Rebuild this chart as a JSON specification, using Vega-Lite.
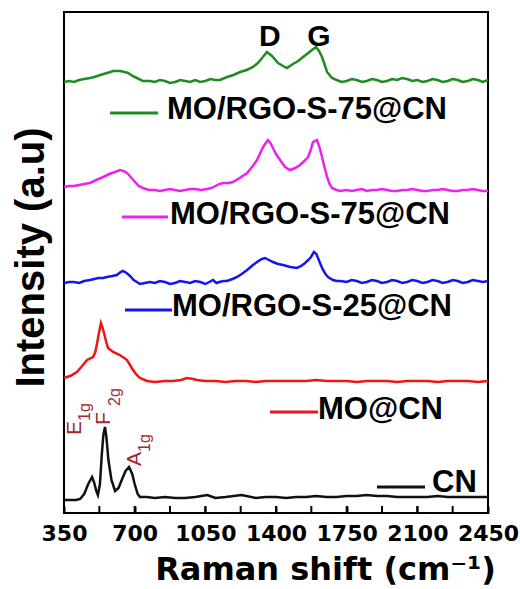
{
"$schema": "https://vega.github.io/schema/vega-lite/v6.json",
"width": 424,
"height": 501,
"autosize": {"type": "none"},
"padding": {"left": 64, "top": 12, "right": 32, "bottom": 76},
"config": {"view": {"stroke": "black", "strokeWidth": 2}, "font": "Liberation Sans"},
"datasets": {
"spectra": [
{"s":"S75-top","w":350,"i":431},{"s":"S75-top","w":375,"i":432},{"s":"S75-top","w":400,"i":431},{"s":"S75-top","w":425,"i":433},{"s":"S75-top","w":450,"i":434},{"s":"S75-top","w":479,"i":435},{"s":"S75-top","w":500,"i":436},{"s":"S75-top","w":530,"i":438},{"s":"S75-top","w":563,"i":440},{"s":"S75-top","w":595,"i":442},{"s":"S75-top","w":627,"i":442},{"s":"S75-top","w":650,"i":441},{"s":"S75-top","w":667,"i":440},{"s":"S75-top","w":690,"i":437},{"s":"S75-top","w":711,"i":435},{"s":"S75-top","w":741,"i":432},{"s":"S75-top","w":775,"i":432},{"s":"S75-top","w":800,"i":431},{"s":"S75-top","w":825,"i":433},{"s":"S75-top","w":850,"i":432},{"s":"S75-top","w":875,"i":430},{"s":"S75-top","w":900,"i":431},{"s":"S75-top","w":925,"i":433},{"s":"S75-top","w":950,"i":432},{"s":"S75-top","w":975,"i":431},{"s":"S75-top","w":1000,"i":433},{"s":"S75-top","w":1025,"i":431},{"s":"S75-top","w":1050,"i":432},{"s":"S75-top","w":1075,"i":434},{"s":"S75-top","w":1100,"i":433},{"s":"S75-top","w":1123,"i":433},{"s":"S75-top","w":1157,"i":436},{"s":"S75-top","w":1190,"i":438},{"s":"S75-top","w":1222,"i":441},{"s":"S75-top","w":1255,"i":443},{"s":"S75-top","w":1286,"i":446},{"s":"S75-top","w":1310,"i":450},{"s":"S75-top","w":1331,"i":455},{"s":"S75-top","w":1355,"i":461},{"s":"S75-top","w":1380,"i":457},{"s":"S75-top","w":1410,"i":450},{"s":"S75-top","w":1435,"i":447},{"s":"S75-top","w":1454,"i":445},{"s":"S75-top","w":1484,"i":449},{"s":"S75-top","w":1510,"i":452},{"s":"S75-top","w":1534,"i":456},{"s":"S75-top","w":1560,"i":460},{"s":"S75-top","w":1578,"i":463},{"s":"S75-top","w":1598,"i":466},{"s":"S75-top","w":1613,"i":462},{"s":"S75-top","w":1628,"i":456},{"s":"S75-top","w":1653,"i":441},{"s":"S75-top","w":1677,"i":435},{"s":"S75-top","w":1700,"i":433},{"s":"S75-top","w":1725,"i":431},{"s":"S75-top","w":1750,"i":432},{"s":"S75-top","w":1775,"i":434},{"s":"S75-top","w":1800,"i":433},{"s":"S75-top","w":1825,"i":431},{"s":"S75-top","w":1850,"i":432},{"s":"S75-top","w":1875,"i":434},{"s":"S75-top","w":1900,"i":433},{"s":"S75-top","w":1925,"i":431},{"s":"S75-top","w":1950,"i":432},{"s":"S75-top","w":1975,"i":434},{"s":"S75-top","w":2000,"i":433},{"s":"S75-top","w":2025,"i":435},{"s":"S75-top","w":2049,"i":434},{"s":"S75-top","w":2075,"i":432},{"s":"S75-top","w":2100,"i":433},{"s":"S75-top","w":2125,"i":431},{"s":"S75-top","w":2150,"i":432},{"s":"S75-top","w":2175,"i":434},{"s":"S75-top","w":2200,"i":433},{"s":"S75-top","w":2225,"i":431},{"s":"S75-top","w":2250,"i":432},{"s":"S75-top","w":2275,"i":434},{"s":"S75-top","w":2300,"i":433},{"s":"S75-top","w":2325,"i":431},{"s":"S75-top","w":2350,"i":432},{"s":"S75-top","w":2375,"i":434},{"s":"S75-top","w":2400,"i":433},{"s":"S75-top","w":2425,"i":431},{"s":"S75-top","w":2450,"i":433},
{"s":"S75","w":350,"i":326},{"s":"S75","w":375,"i":327},{"s":"S75","w":400,"i":327},{"s":"S75","w":425,"i":328},{"s":"S75","w":450,"i":329},{"s":"S75","w":479,"i":330},{"s":"S75","w":510,"i":333},{"s":"S75","w":544,"i":336},{"s":"S75","w":575,"i":339},{"s":"S75","w":603,"i":341},{"s":"S75","w":627,"i":343},{"s":"S75","w":645,"i":342},{"s":"S75","w":662,"i":340},{"s":"S75","w":680,"i":336},{"s":"S75","w":702,"i":331},{"s":"S75","w":720,"i":327},{"s":"S75","w":741,"i":325},{"s":"S75","w":770,"i":323},{"s":"S75","w":800,"i":323},{"s":"S75","w":825,"i":322},{"s":"S75","w":850,"i":323},{"s":"S75","w":875,"i":324},{"s":"S75","w":900,"i":323},{"s":"S75","w":925,"i":322},{"s":"S75","w":950,"i":323},{"s":"S75","w":975,"i":324},{"s":"S75","w":1000,"i":324},{"s":"S75","w":1030,"i":323},{"s":"S75","w":1058,"i":324},{"s":"S75","w":1080,"i":325},{"s":"S75","w":1100,"i":327},{"s":"S75","w":1120,"i":329},{"s":"S75","w":1138,"i":330},{"s":"S75","w":1165,"i":330},{"s":"S75","w":1187,"i":331},{"s":"S75","w":1220,"i":335},{"s":"S75","w":1257,"i":340},{"s":"S75","w":1285,"i":347},{"s":"S75","w":1306,"i":353},{"s":"S75","w":1322,"i":360},{"s":"S75","w":1336,"i":366},{"s":"S75","w":1360,"i":373},{"s":"S75","w":1372,"i":370},{"s":"S75","w":1385,"i":365},{"s":"S75","w":1400,"i":359},{"s":"S75","w":1420,"i":353},{"s":"S75","w":1445,"i":346},{"s":"S75","w":1469,"i":343},{"s":"S75","w":1495,"i":345},{"s":"S75","w":1519,"i":348},{"s":"S75","w":1540,"i":352},{"s":"S75","w":1559,"i":356},{"s":"S75","w":1572,"i":363},{"s":"S75","w":1583,"i":371},{"s":"S75","w":1603,"i":373},{"s":"S75","w":1615,"i":366},{"s":"S75","w":1628,"i":356},{"s":"S75","w":1640,"i":346},{"s":"S75","w":1653,"i":336},{"s":"S75","w":1665,"i":329},{"s":"S75","w":1677,"i":325},{"s":"S75","w":1700,"i":323},{"s":"S75","w":1717,"i":322},{"s":"S75","w":1750,"i":323},{"s":"S75","w":1775,"i":322},{"s":"S75","w":1800,"i":323},{"s":"S75","w":1825,"i":324},{"s":"S75","w":1850,"i":322},{"s":"S75","w":1875,"i":323},{"s":"S75","w":1900,"i":323},{"s":"S75","w":1925,"i":324},{"s":"S75","w":1950,"i":323},{"s":"S75","w":1975,"i":322},{"s":"S75","w":2000,"i":322},{"s":"S75","w":2025,"i":323},{"s":"S75","w":2050,"i":323},{"s":"S75","w":2075,"i":324},{"s":"S75","w":2100,"i":323},{"s":"S75","w":2125,"i":322},{"s":"S75","w":2150,"i":322},{"s":"S75","w":2175,"i":323},{"s":"S75","w":2200,"i":323},{"s":"S75","w":2225,"i":324},{"s":"S75","w":2250,"i":323},{"s":"S75","w":2275,"i":322},{"s":"S75","w":2300,"i":322},{"s":"S75","w":2325,"i":323},{"s":"S75","w":2350,"i":323},{"s":"S75","w":2375,"i":324},{"s":"S75","w":2400,"i":323},{"s":"S75","w":2425,"i":322},{"s":"S75","w":2450,"i":322},
{"s":"S25","w":350,"i":230},{"s":"S25","w":375,"i":231},{"s":"S25","w":400,"i":231},{"s":"S25","w":425,"i":230},{"s":"S25","w":450,"i":232},{"s":"S25","w":479,"i":233},{"s":"S25","w":500,"i":234},{"s":"S25","w":520,"i":235},{"s":"S25","w":545,"i":235},{"s":"S25","w":563,"i":236},{"s":"S25","w":590,"i":237},{"s":"S25","w":612,"i":238},{"s":"S25","w":630,"i":241},{"s":"S25","w":642,"i":242},{"s":"S25","w":660,"i":240},{"s":"S25","w":677,"i":237},{"s":"S25","w":695,"i":233},{"s":"S25","w":711,"i":231},{"s":"S25","w":726,"i":229},{"s":"S25","w":750,"i":230},{"s":"S25","w":776,"i":231},{"s":"S25","w":800,"i":230},{"s":"S25","w":825,"i":232},{"s":"S25","w":850,"i":231},{"s":"S25","w":875,"i":229},{"s":"S25","w":900,"i":230},{"s":"S25","w":925,"i":232},{"s":"S25","w":950,"i":231},{"s":"S25","w":975,"i":230},{"s":"S25","w":1000,"i":232},{"s":"S25","w":1025,"i":231},{"s":"S25","w":1050,"i":229},{"s":"S25","w":1070,"i":231},{"s":"S25","w":1088,"i":233},{"s":"S25","w":1105,"i":230},{"s":"S25","w":1120,"i":231},{"s":"S25","w":1140,"i":232},{"s":"S25","w":1157,"i":232},{"s":"S25","w":1185,"i":234},{"s":"S25","w":1207,"i":236},{"s":"S25","w":1230,"i":239},{"s":"S25","w":1257,"i":243},{"s":"S25","w":1280,"i":247},{"s":"S25","w":1306,"i":251},{"s":"S25","w":1330,"i":254},{"s":"S25","w":1346,"i":255},{"s":"S25","w":1365,"i":253},{"s":"S25","w":1385,"i":251},{"s":"S25","w":1410,"i":249},{"s":"S25","w":1435,"i":248},{"s":"S25","w":1470,"i":246},{"s":"S25","w":1504,"i":245},{"s":"S25","w":1525,"i":247},{"s":"S25","w":1544,"i":250},{"s":"S25","w":1560,"i":253},{"s":"S25","w":1573,"i":256},{"s":"S25","w":1588,"i":261},{"s":"S25","w":1600,"i":259},{"s":"S25","w":1608,"i":255},{"s":"S25","w":1620,"i":249},{"s":"S25","w":1633,"i":243},{"s":"S25","w":1645,"i":239},{"s":"S25","w":1658,"i":236},{"s":"S25","w":1682,"i":233},{"s":"S25","w":1700,"i":232},{"s":"S25","w":1720,"i":232},{"s":"S25","w":1750,"i":231},{"s":"S25","w":1775,"i":233},{"s":"S25","w":1800,"i":232},{"s":"S25","w":1825,"i":230},{"s":"S25","w":1850,"i":231},{"s":"S25","w":1875,"i":233},{"s":"S25","w":1900,"i":232},{"s":"S25","w":1925,"i":230},{"s":"S25","w":1950,"i":231},{"s":"S25","w":1975,"i":233},{"s":"S25","w":2000,"i":232},{"s":"S25","w":2025,"i":230},{"s":"S25","w":2050,"i":231},{"s":"S25","w":2075,"i":233},{"s":"S25","w":2100,"i":232},{"s":"S25","w":2125,"i":230},{"s":"S25","w":2150,"i":231},{"s":"S25","w":2175,"i":233},{"s":"S25","w":2200,"i":232},{"s":"S25","w":2225,"i":230},{"s":"S25","w":2250,"i":231},{"s":"S25","w":2275,"i":233},{"s":"S25","w":2300,"i":232},{"s":"S25","w":2325,"i":230},{"s":"S25","w":2350,"i":231},{"s":"S25","w":2375,"i":233},{"s":"S25","w":2400,"i":232},{"s":"S25","w":2425,"i":231},{"s":"S25","w":2450,"i":232},
{"s":"MO","w":350,"i":135},{"s":"MO","w":380,"i":137},{"s":"MO","w":414,"i":141},{"s":"MO","w":440,"i":147},{"s":"MO","w":464,"i":153},{"s":"MO","w":494,"i":156},{"s":"MO","w":505,"i":161},{"s":"MO","w":514,"i":170},{"s":"MO","w":524,"i":181},{"s":"MO","w":533,"i":190},{"s":"MO","w":540,"i":186},{"s":"MO","w":548,"i":180},{"s":"MO","w":558,"i":172},{"s":"MO","w":568,"i":165},{"s":"MO","w":593,"i":161},{"s":"MO","w":627,"i":158},{"s":"MO","w":662,"i":153},{"s":"MO","w":692,"i":143},{"s":"MO","w":710,"i":138},{"s":"MO","w":726,"i":135},{"s":"MO","w":761,"i":132},{"s":"MO","w":800,"i":131},{"s":"MO","w":850,"i":132},{"s":"MO","w":890,"i":132},{"s":"MO","w":930,"i":133},{"s":"MO","w":959,"i":135},{"s":"MO","w":990,"i":134},{"s":"MO","w":1008,"i":133},{"s":"MO","w":1050,"i":132},{"s":"MO","w":1100,"i":132},{"s":"MO","w":1150,"i":131},{"s":"MO","w":1200,"i":132},{"s":"MO","w":1250,"i":132},{"s":"MO","w":1300,"i":131},{"s":"MO","w":1350,"i":132},{"s":"MO","w":1400,"i":132},{"s":"MO","w":1450,"i":132},{"s":"MO","w":1500,"i":132},{"s":"MO","w":1550,"i":132},{"s":"MO","w":1600,"i":133},{"s":"MO","w":1650,"i":132},{"s":"MO","w":1700,"i":132},{"s":"MO","w":1750,"i":132},{"s":"MO","w":1800,"i":131},{"s":"MO","w":1850,"i":132},{"s":"MO","w":1900,"i":132},{"s":"MO","w":1950,"i":132},{"s":"MO","w":2000,"i":131},{"s":"MO","w":2050,"i":132},{"s":"MO","w":2100,"i":132},{"s":"MO","w":2150,"i":132},{"s":"MO","w":2200,"i":131},{"s":"MO","w":2250,"i":132},{"s":"MO","w":2300,"i":132},{"s":"MO","w":2350,"i":132},{"s":"MO","w":2400,"i":131},{"s":"MO","w":2450,"i":132},
{"s":"CN","w":350,"i":13},{"s":"CN","w":380,"i":13},{"s":"CN","w":410,"i":13},{"s":"CN","w":430,"i":14},{"s":"CN","w":450,"i":19},{"s":"CN","w":470,"i":29},{"s":"CN","w":489,"i":36},{"s":"CN","w":500,"i":30},{"s":"CN","w":510,"i":22},{"s":"CN","w":518,"i":18},{"s":"CN","w":528,"i":29},{"s":"CN","w":537,"i":58},{"s":"CN","w":545,"i":78},{"s":"CN","w":553,"i":86},{"s":"CN","w":560,"i":76},{"s":"CN","w":570,"i":53},{"s":"CN","w":585,"i":33},{"s":"CN","w":603,"i":22},{"s":"CN","w":620,"i":25},{"s":"CN","w":640,"i":35},{"s":"CN","w":655,"i":42},{"s":"CN","w":672,"i":46},{"s":"CN","w":688,"i":39},{"s":"CN","w":700,"i":29},{"s":"CN","w":715,"i":19},{"s":"CN","w":726,"i":16},{"s":"CN","w":760,"i":16},{"s":"CN","w":800,"i":15},{"s":"CN","w":850,"i":16},{"s":"CN","w":900,"i":15},{"s":"CN","w":950,"i":15},{"s":"CN","w":1000,"i":16},{"s":"CN","w":1060,"i":18},{"s":"CN","w":1100,"i":15},{"s":"CN","w":1150,"i":16},{"s":"CN","w":1230,"i":18},{"s":"CN","w":1300,"i":15},{"s":"CN","w":1350,"i":16},{"s":"CN","w":1400,"i":16},{"s":"CN","w":1450,"i":15},{"s":"CN","w":1500,"i":16},{"s":"CN","w":1550,"i":16},{"s":"CN","w":1600,"i":17},{"s":"CN","w":1650,"i":16},{"s":"CN","w":1700,"i":16},{"s":"CN","w":1750,"i":17},{"s":"CN","w":1800,"i":17},{"s":"CN","w":1850,"i":18},{"s":"CN","w":1900,"i":17},{"s":"CN","w":1950,"i":17},{"s":"CN","w":2000,"i":16},{"s":"CN","w":2050,"i":16},{"s":"CN","w":2100,"i":16},{"s":"CN","w":2150,"i":16},{"s":"CN","w":2200,"i":17},{"s":"CN","w":2250,"i":16},{"s":"CN","w":2300,"i":16},{"s":"CN","w":2350,"i":16},{"s":"CN","w":2400,"i":16},{"s":"CN","w":2450,"i":16}
],
"ticks": [
{"w":525},{"w":700},{"w":875},{"w":1050},{"w":1225},{"w":1400},{"w":1575},{"w":1750},{"w":1925},{"w":2100},{"w":2275}
],
"legend": [
{"s":"S75-top","label":"MO/RGO-S-75@CN","x1":578,"x2":816,"y":400,"tx":860,"ty":403},
{"s":"S75","label":"MO/RGO-S-75@CN","x1":637,"x2":865,"y":296,"tx":875,"ty":298},
{"s":"S25","label":"MO/RGO-S-25@CN","x1":652,"x2":885,"y":203,"tx":885,"ty":206},
{"s":"MO","label":"MO@CN","x1":1370,"x2":1608,"y":101,"tx":1608,"ty":103},
{"s":"CN","label":"CN","x1":1900,"x2":2138,"y":26,"tx":2173,"ty":30}
],
"notes": [
{"kind":"peak","label":"D","w":1370,"i":476},
{"kind":"peak","label":"G","w":1613,"i":476},
{"kind":"main","label":"E","w":404,"i":78},
{"kind":"sub","label":"1g","w":453,"i":92},
{"kind":"main","label":"F","w":548,"i":88},
{"kind":"sub","label":"2g","w":605,"i":107},
{"kind":"main","label":"A","w":702,"i":47},
{"kind":"sub","label":"1g","w":753,"i":61}
]
},
"layer": [
{
"data": {"name": "spectra"},
"mark": {"type": "line", "strokeWidth": 2.5},
"encoding": {
"x": {"field": "w", "type": "quantitative", "scale": {"domain": [350, 2450], "nice": false, "zero": false},
"axis": {"title": "Raman shift (cm⁻¹)", "values": [350, 700, 1050, 1400, 1750, 2100, 2450],
"labelExpr": "toString(datum.value)", "labelFlush": false, "labelOverlap": false,
"labelFont": "DejaVu Sans", "labelFontSize": 22, "labelFontWeight": "bold", "labelColor": "black", "labelPadding": 10,
"offset": -7, "ticks": true, "tickColor": "#000000", "tickSize": 7, "tickWidth": 2, "tickOpacity": 1, "domain": false, "grid": false, "zindex": 2,
"titleFont": "DejaVu Sans", "titleFontSize": 32, "titleFontWeight": "bold", "titleColor": "black", "titleX": 261, "titleY": 73, "titleAlign": "center", "titleBaseline": "alphabetic"}},
"y": {"field": "i", "type": "quantitative", "scale": {"domain": [0, 501], "nice": false},
"axis": {"title": "Intensity (a.u)", "labels": false, "ticks": false, "domain": false, "grid": false,
"titleFontSize": 40, "titleFontWeight": "bold", "titleColor": "black", "titleX": -21, "titleY": 245, "titleAlign": "center", "titleBaseline": "alphabetic", "titleAngle": 270}},
"color": {"field": "s", "type": "nominal", "legend": null,
"scale": {"domain": ["S75-top", "S75", "S25", "MO", "CN"], "range": ["#1f8c1f", "#ee22ee", "#1515ee", "#ee1515", "#111111"]}}
}
},
{
"data": {"name": "ticks"},
"mark": {"type": "rule", "strokeWidth": 2, "color": "black"},
"encoding": {
"x": {"field": "w", "type": "quantitative"},
"y": {"datum": 0},
"y2": {"datum": 7}
}
},
{
"data": {"name": "legend"},
"mark": {"type": "rule", "strokeWidth": 3},
"encoding": {
"x": {"field": "x1", "type": "quantitative"},
"x2": {"field": "x2"},
"y": {"field": "y", "type": "quantitative"},
"color": {"field": "s", "type": "nominal", "legend": null}
}
},
{
"data": {"name": "legend"},
"mark": {"type": "text", "align": "left", "baseline": "middle", "fontSize": 31, "fontWeight": "bold", "color": "black"},
"encoding": {
"x": {"field": "tx", "type": "quantitative"},
"y": {"field": "ty", "type": "quantitative"},
"text": {"field": "label"}
}
},
{
"data": {"name": "notes"},
"transform": [{"filter": "datum.kind === 'peak'"}],
"mark": {"type": "text", "align": "center", "baseline": "middle", "fontSize": 30, "fontWeight": "bold", "color": "black"},
"encoding": {
"x": {"field": "w", "type": "quantitative"},
"y": {"field": "i", "type": "quantitative"},
"text": {"field": "label"}
}
},
{
"data": {"name": "notes"},
"transform": [{"filter": "datum.kind === 'main'"}],
"mark": {"type": "text", "align": "left", "baseline": "middle", "angle": 270, "fontSize": 21, "color": "#a02a30"},
"encoding": {
"x": {"field": "w", "type": "quantitative"},
"y": {"field": "i", "type": "quantitative"},
"text": {"field": "label"}
}
},
{
"data": {"name": "notes"},
"transform": [{"filter": "datum.kind === 'sub'"}],
"mark": {"type": "text", "align": "left", "baseline": "middle", "angle": 270, "fontSize": 16, "color": "#a02a30"},
"encoding": {
"x": {"field": "w", "type": "quantitative"},
"y": {"field": "i", "type": "quantitative"},
"text": {"field": "label"}
}
}
]
}
